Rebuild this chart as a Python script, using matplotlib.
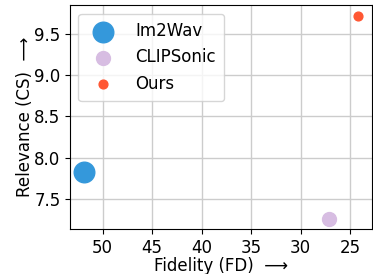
import matplotlib.pyplot as plt

methods = ["Im2Wav", "CLIPSonic", "Ours"]
fidelity = [51.9, 27.15, 24.2]
relevance = [7.83, 7.26, 9.72]
sizes = [220, 100, 40]
colors = ["#3498db", "#d7bde2", "#ff5733"]

plt.rcParams["font.size"] = 12

fig, ax = plt.subplots(figsize=(3.73, 2.74), dpi=100)
for name, x, y, s, c in zip(methods, fidelity, relevance, sizes, colors):
    ax.scatter(x, y, s=s, color=c, label=name, zorder=3)

ax.invert_xaxis()
ax.set_xticks([50, 45, 40, 35, 30, 25])
ax.set_yticks([7.5, 8.0, 8.5, 9.0, 9.5])
ax.set_xlabel("Fidelity (FD)  \u27f6", labelpad=0)
ax.set_ylabel("Relevance (CS)  \u27f6", labelpad=0)
ax.grid(True, color="#cccccc", linewidth=1)
ax.set_axisbelow(True)
ax.legend(loc="upper left", labelspacing=0.5, handletextpad=0.9,
          borderpad=0.5)

fig.subplots_adjust(left=0.188, right=0.997, top=0.98, bottom=0.165)
fig.savefig("out.png", dpi=100)
